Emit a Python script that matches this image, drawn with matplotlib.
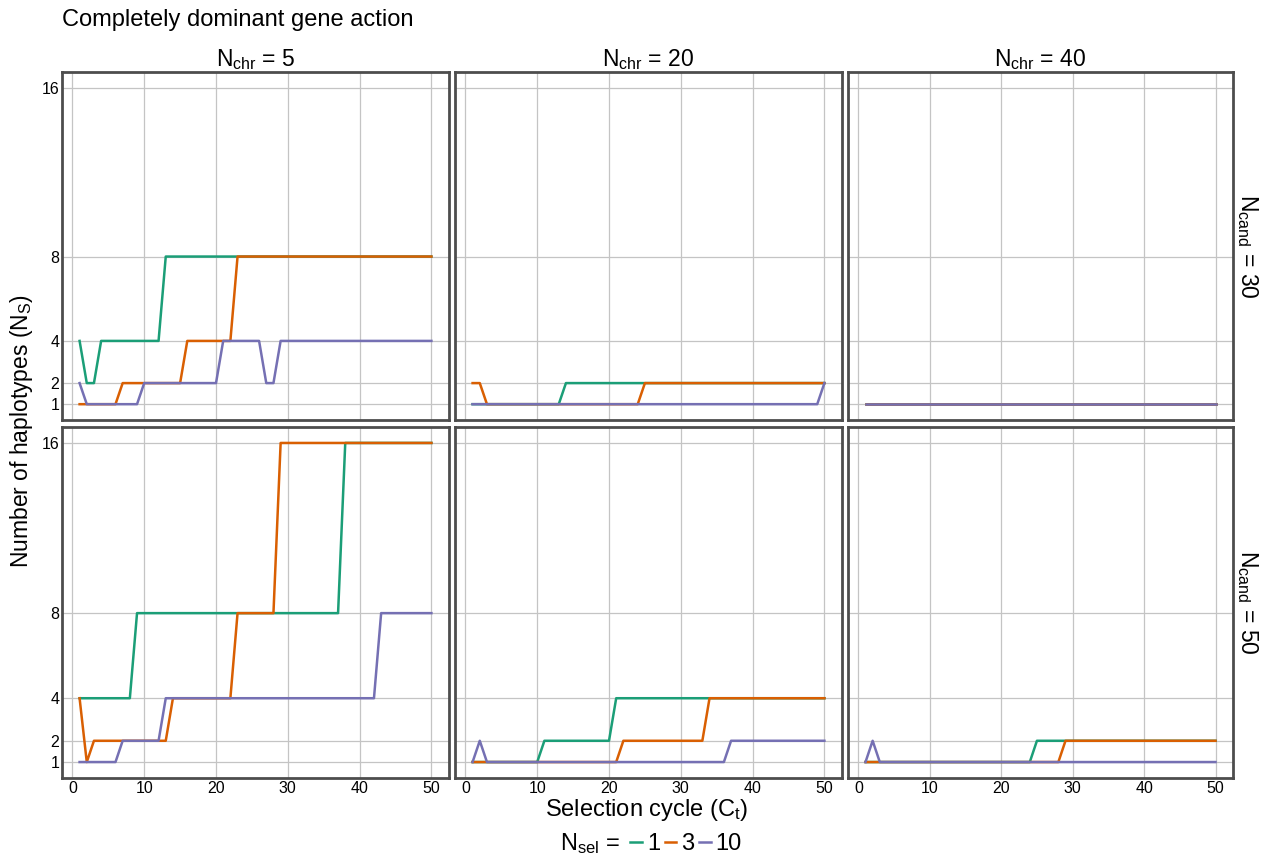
import matplotlib
matplotlib.use("Agg")
import matplotlib.pyplot as plt
from matplotlib.lines import Line2D

plt.rcParams['font.family'] = ['Liberation Sans', 'DejaVu Sans']
plt.rcParams['mathtext.fontset'] = 'custom'
plt.rcParams['mathtext.rm'] = 'Liberation Sans'
plt.rcParams['mathtext.it'] = 'Liberation Sans:italic'

cycles = list(range(1, 51))
n_chr = [5, 20, 40]
n_cand = [30, 50]
n_sel = ['1', '3', '10']
colors = ['#1B9E77', '#D95F02', '#7570B3']
y_ticks = [1, 2, 4, 8, 16]


def steps(pairs):
    # pairs of (first cycle, value); value holds until next pair
    out = []
    for i, (start, val) in enumerate(pairs):
        end = pairs[i + 1][0] if i + 1 < len(pairs) else 51
        out += [val] * (end - start)
    return out


# Ncand = 30
c30_chr5 = [steps([(1, 4), (2, 2), (4, 4), (13, 8)]),
            steps([(1, 1), (7, 2), (16, 4), (23, 8)]),
            steps([(1, 2), (2, 1), (10, 2), (21, 4), (27, 2), (29, 4)])]
c30_chr20 = [steps([(1, 1), (14, 2)]),
             steps([(1, 2), (3, 1), (25, 2)]),
             steps([(1, 1), (50, 2)])]
c30_chr40 = [steps([(1, 1)]),
             steps([(1, 1)]),
             steps([(1, 1)])]
# Ncand = 50
c50_chr5 = [steps([(1, 4), (9, 8), (38, 16)]),
            steps([(1, 4), (2, 1), (3, 2), (14, 4), (23, 8), (29, 16)]),
            steps([(1, 1), (7, 2), (13, 4), (43, 8)])]
c50_chr20 = [steps([(1, 1), (11, 2), (21, 4)]),
             steps([(1, 1), (22, 2), (34, 4)]),
             steps([(1, 1), (2, 2), (3, 1), (37, 2)])]
c50_chr40 = [steps([(1, 1), (25, 2)]),
             steps([(1, 1), (29, 2)]),
             steps([(1, 1), (2, 2), (3, 1)])]

data = [[c30_chr5, c30_chr20, c30_chr40],
        [c50_chr5, c50_chr20, c50_chr40]]

fig = plt.figure(figsize=(12.71, 8.61), dpi=100)
W, H = 1271, 861
cols = [(62, 449), (455, 842), (848, 1233)]
rows = [(72, 420), (427, 778)]

for r, (y0, y1) in enumerate(rows):
    for c, (x0, x1) in enumerate(cols):
        ax = fig.add_axes([x0 / W, 1 - y1 / H, (x1 - x0) / W, (y1 - y0) / H])
        for k in range(3):
            ax.plot(cycles, data[r][c][k], color=colors[k], lw=1.8, zorder=3)
        ax.set_xlim(-1.45, 52.45)
        ax.set_ylim(0.25, 16.75)
        ax.set_xticks([0, 10, 20, 30, 40, 50])
        ax.set_yticks(y_ticks)
        ax.grid(True, color='#c4c4c4', lw=0.9)
        ax.tick_params(length=0, labelsize=11.5, pad=2)
        if c > 0:
            ax.set_yticklabels([])
        if r == 0:
            ax.set_xticklabels([])
        for s in ax.spines.values():
            s.set_color('#4d4d4d')
            s.set_linewidth(2.0)
        if r == 0:
            ax.set_title(r'$\mathrm{N}_{\mathrm{chr}}$ = %d' % n_chr[c],
                         fontsize=16.5, pad=3)
        if c == 2:
            ax.text(1.038, 0.5, r'$\mathrm{N}_{\mathrm{cand}}$ = %d' % n_cand[r],
                    transform=ax.transAxes, rotation=-90, fontsize=16.5,
                    va='center', ha='center')

fig.text(62 / W, 1 - 20 / H, 'Completely dominant gene action',
         fontsize=17, ha='left', va='center')
fig.text(22 / W, 1 - 431 / H, r'Number of haplotypes ($\mathrm{N}_{\mathrm{S}}$)',
         rotation=90, fontsize=16.5, ha='center', va='center')
fig.text(647 / W, 1 - 810 / H, r'Selection cycle ($\mathrm{C}_{\mathrm{t}}$)',
         fontsize=17, ha='center', va='center')

handles = [Line2D([], [], color=colors[k], lw=1.8) for k in range(3)]
fig.text(590 / W, 1 - 844 / H, r'$\mathrm{N}_{\mathrm{sel}}$ =',
         fontsize=17, ha='center', va='center')
fig.legend(handles, n_sel, loc='center', bbox_to_anchor=(686 / W, 1 - 844 / H),
           ncol=3, frameon=False, fontsize=17, handlelength=0.5,
           handletextpad=0.2, columnspacing=0.2, borderpad=0)

fig.savefig('out.png', dpi=100)
